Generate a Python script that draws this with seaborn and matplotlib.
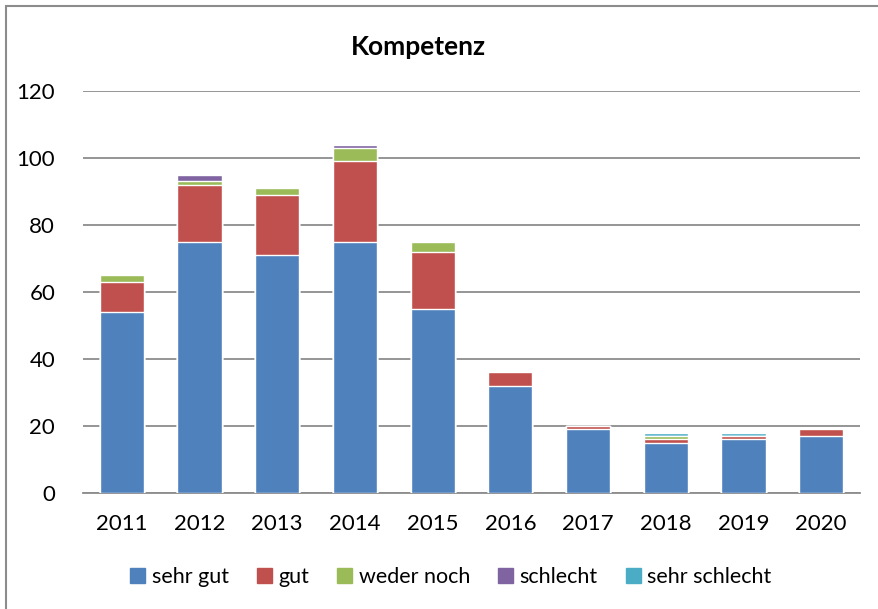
import numpy as np
import pandas as pd
import seaborn as sns
from matplotlib import pyplot as plt
from matplotlib.patches import Rectangle

# Werte
jahre = ['2011', '2012', '2013', '2014', '2015', '2016', '2017', '2018', '2019', '2020']
sehr_gut = [54, 75, 71, 75, 55, 32, 19, 15, 16, 17]
gut = [9, 17, 18, 24, 17, 4, 1, 1, 1, 2]
weder_noch = [2, 1, 2, 4, 3, 0, 0, 1, 0, 0]
schlecht = [0, 2, 0, 1, 0, 0, 0, 0, 0, 0]
sehr_schlecht = [0, 0, 0, 0, 0, 0, 0, 1, 1, 0]

namen = ['sehr gut', 'gut', 'weder noch', 'schlecht', 'sehr schlecht']
colors = ['#4F81BD', '#C0504D', '#9BBB59', '#8064A2', '#4BACC6']

sns.set_theme(style='white')
plt.rcParams['font.family'] = ['Lato', 'DejaVu Sans']
plt.rcParams['text.color'] = 'black'

fig = plt.figure(figsize=(8.79, 6.09), dpi=100)
ax = fig.add_axes([83 / 879, 1 - 493 / 609, 777 / 879, 402 / 609])

# gestapelte Balken: kumulierte Summen von oben nach unten zeichnen
serien = np.array([sehr_gut, gut, weder_noch, schlecht, sehr_schlecht])
kum = np.cumsum(serien, axis=0)
for i in reversed(range(len(namen))):
    sns.barplot(x=jahre, y=kum[i], color=colors[i], width=0.57,
                saturation=1, ax=ax, zorder=3)

ax.set_ylim(0, 120)
ax.set_yticks(range(0, 121, 20))
ax.yaxis.grid(True, color='#8c8c8c', linewidth=1.3, zorder=0)
ax.xaxis.grid(False)
for s in ['top', 'right', 'left']:
    ax.spines[s].set_visible(False)
ax.spines['bottom'].set_color('#8c8c8c')
ax.spines['bottom'].set_linewidth(1.3)
ax.tick_params(axis='both', length=0, labelsize=16, colors='black')
ax.tick_params(axis='y', pad=20)
ax.tick_params(axis='x', pad=15)
ax.set_xlabel('')
ax.set_ylabel('')

fig.text(418 / 879, 1 - 47 / 609, 'Kompetenz', ha='center', va='center',
         fontsize=19, fontweight='bold', color='black')

handles = [Rectangle((0, 0), 1, 1, color=c) for c in colors]
fig.legend(handles, namen, loc='center', bbox_to_anchor=(451 / 879, 1 - 577 / 609),
           ncol=5, frameon=False, fontsize=15.5, handlelength=0.7, handleheight=0.7,
           handletextpad=0.3, columnspacing=1.3)

# Rahmen des Diagramms (rechts und unten abgeschnitten)
fig.add_artist(Rectangle((6 / 879, -0.1), 1.2, 1 - 6 / 609 + 0.1,
                         transform=fig.transFigure, fill=False,
                         edgecolor='#8c8c8c', linewidth=1.5))

fig.savefig('out.png', dpi=100)
